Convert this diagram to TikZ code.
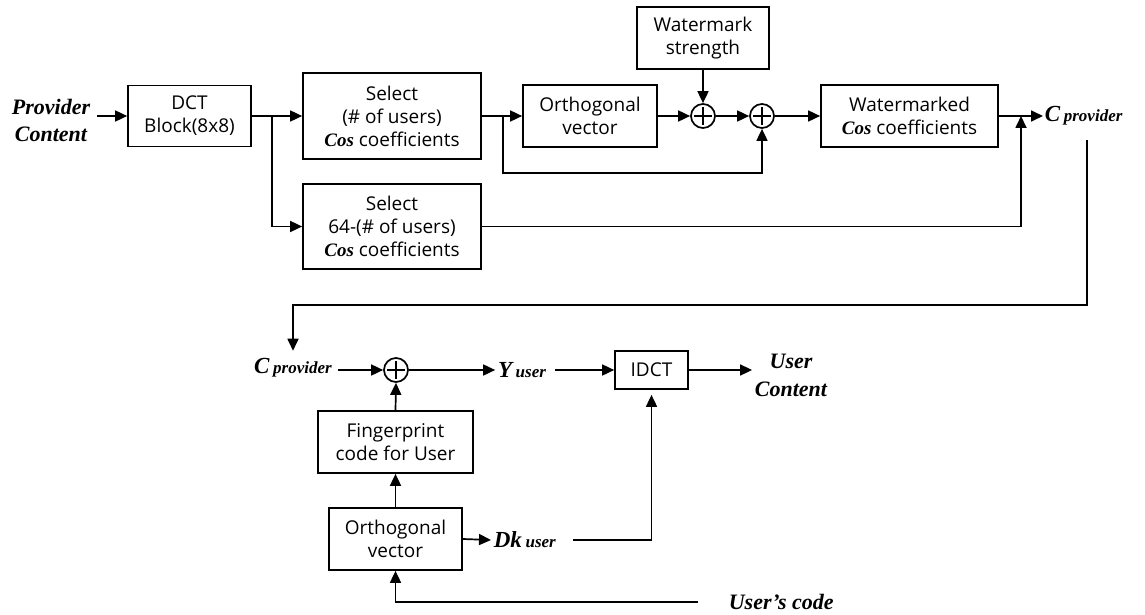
\documentclass[tikz,border=0pt]{standalone}
\usepackage{fontspec}
\setmainfont{Liberation Serif}
\newfontfamily\boxfont{Open Sans}
\usetikzlibrary{arrows.meta,calc}
\newcommand\Cosx{{\rmfamily\bfseries\itshape Cos}}
\newcommand\Csub[2]{{\fontsize{23}{23}\selectfont #1}\,{\fontsize{17}{17}\selectfont #2}}
\begin{document}
\begin{tikzpicture}[x=1pt,y=-1pt, line width=1.7pt,
  box/.style={draw, rectangle, align=center, inner sep=2pt, font=\boxfont\fontsize{19}{23}\selectfont},
  lbl/.style={inner sep=2pt, align=center, font=\fontsize{22}{27}\selectfont\bfseries\itshape},
  arr/.style={-{Triangle[length=12pt,width=11pt]}},
  sum/.style={circle, draw, minimum size=24pt, inner sep=0pt,
    path picture={\draw[line width=1.4pt] ([yshift=-3pt]path picture bounding box.north) -- ([yshift=3pt]path picture bounding box.south)
      ([xshift=3pt]path picture bounding box.west) -- ([xshift=-3pt]path picture bounding box.east);}}]
\useasboundingbox (0,0) rectangle (1145,615);

% top row
\node[lbl] (pc) at (51,120) {Provider\\Content};
\node[box, minimum width=123pt, minimum height=61pt] (dct) at (189.5,116) {DCT\\Block(8x8)};
\node[box, minimum width=178pt, minimum height=86pt] (sel1) at (392,116) {Select\\(\# of users)\\\Cosx{} coefficients};
\node[box, minimum width=178pt, minimum height=85pt] (sel2) at (392,226.5) {Select\\64-(\# of users)\\\Cosx{} coefficients};
\node[box, minimum width=134pt, minimum height=62pt] (orth1) at (590,116) {Orthogonal\\vector};
\node[box, minimum width=132pt, minimum height=62pt] (wms) at (703,38) {Watermark\\strength};
\node[sum] (c1) at (703,116) {};
\node[sum] (c2) at (762,116) {};
\node[box, minimum width=177pt, minimum height=62pt] (wmk) at (909.5,116) {Watermarked\\\Cosx{} coefficients};
\node[lbl, anchor=west, inner sep=1pt] (cp1) at (1043,116) {\Csub{C}{provider}};

% bottom part
\node[lbl] (cp2) at (293,368) {\Csub{C}{provider}};
\node[sum] (c3) at (396,370) {};
\node[lbl] (yu) at (522,370) {\Csub{Y}{user}};
\node[box, minimum width=73pt, minimum height=38pt] (idct) at (651.5,370) {IDCT};
\node[lbl, font=\fontsize{22}{28}\selectfont\bfseries\itshape] (uc) at (791,375) {User\\Content};
\node[box, minimum width=155pt, minimum height=62pt] (fp) at (395.5,442) {Fingerprint\\code for User};
\node[box, minimum width=133pt, minimum height=62pt] (orth2) at (395.5,539) {Orthogonal\\vector};
\node[lbl, anchor=west] (dk) at (491,540) {\Csub{Dk}{user}};
\node[lbl, anchor=west] (usc) at (726,602) {User’s code};

% connectors top
\draw[arr, shorten <=4pt] (pc.east |- dct.west) -- (dct.west);
\draw[arr] (dct.east) -- (sel1.west);
\coordinate (b1) at (272,116);
\draw[arr] (b1) |- (sel2.west);
\draw[arr] (sel1.east) -- (orth1.west);
\coordinate (b2) at (503,116);
\draw[arr] (b2) -- ++(0,57) -| (c2.south);
\draw[arr] (orth1.east) -- (c1.west);
\draw[arr] (wms.south) -- (c1.north);
\draw[arr] (c1.east) -- (c2.west);
\draw[arr] (c2.east) -- (wmk.west);
\draw[arr] (wmk.east) -- (cp1.west);
\coordinate (b3) at (1021,116);
\draw[arr] (sel2.east) -| (b3);
\coordinate (fb) at (1087,140);
\draw[arr, shorten >=5pt] (fb) -- ++(0,165) -| (cp2.north);

% connectors bottom
\draw[arr, shorten <=3pt] (cp2.east |- c3.west) -- (c3.west);
\draw[arr] (c3.east) -- (yu.west |- c3.east);
\draw[arr, shorten <=6pt] (yu.east |- idct.west) -- (idct.west);
\draw[arr] (idct.east) -- (uc.west |- idct.east);
\draw[arr] (fp.north) -- (c3.south);
\draw[arr] (orth2.north) -- (fp.south);
\draw[arr] (orth2.east) -- (dk.west);
\draw[arr, shorten <=14pt, shorten >=5pt] (dk.east) -| (idct.south);
\draw[arr, shorten <=28pt] (usc.west) -| (orth2.south);
\end{tikzpicture}
\end{document}
